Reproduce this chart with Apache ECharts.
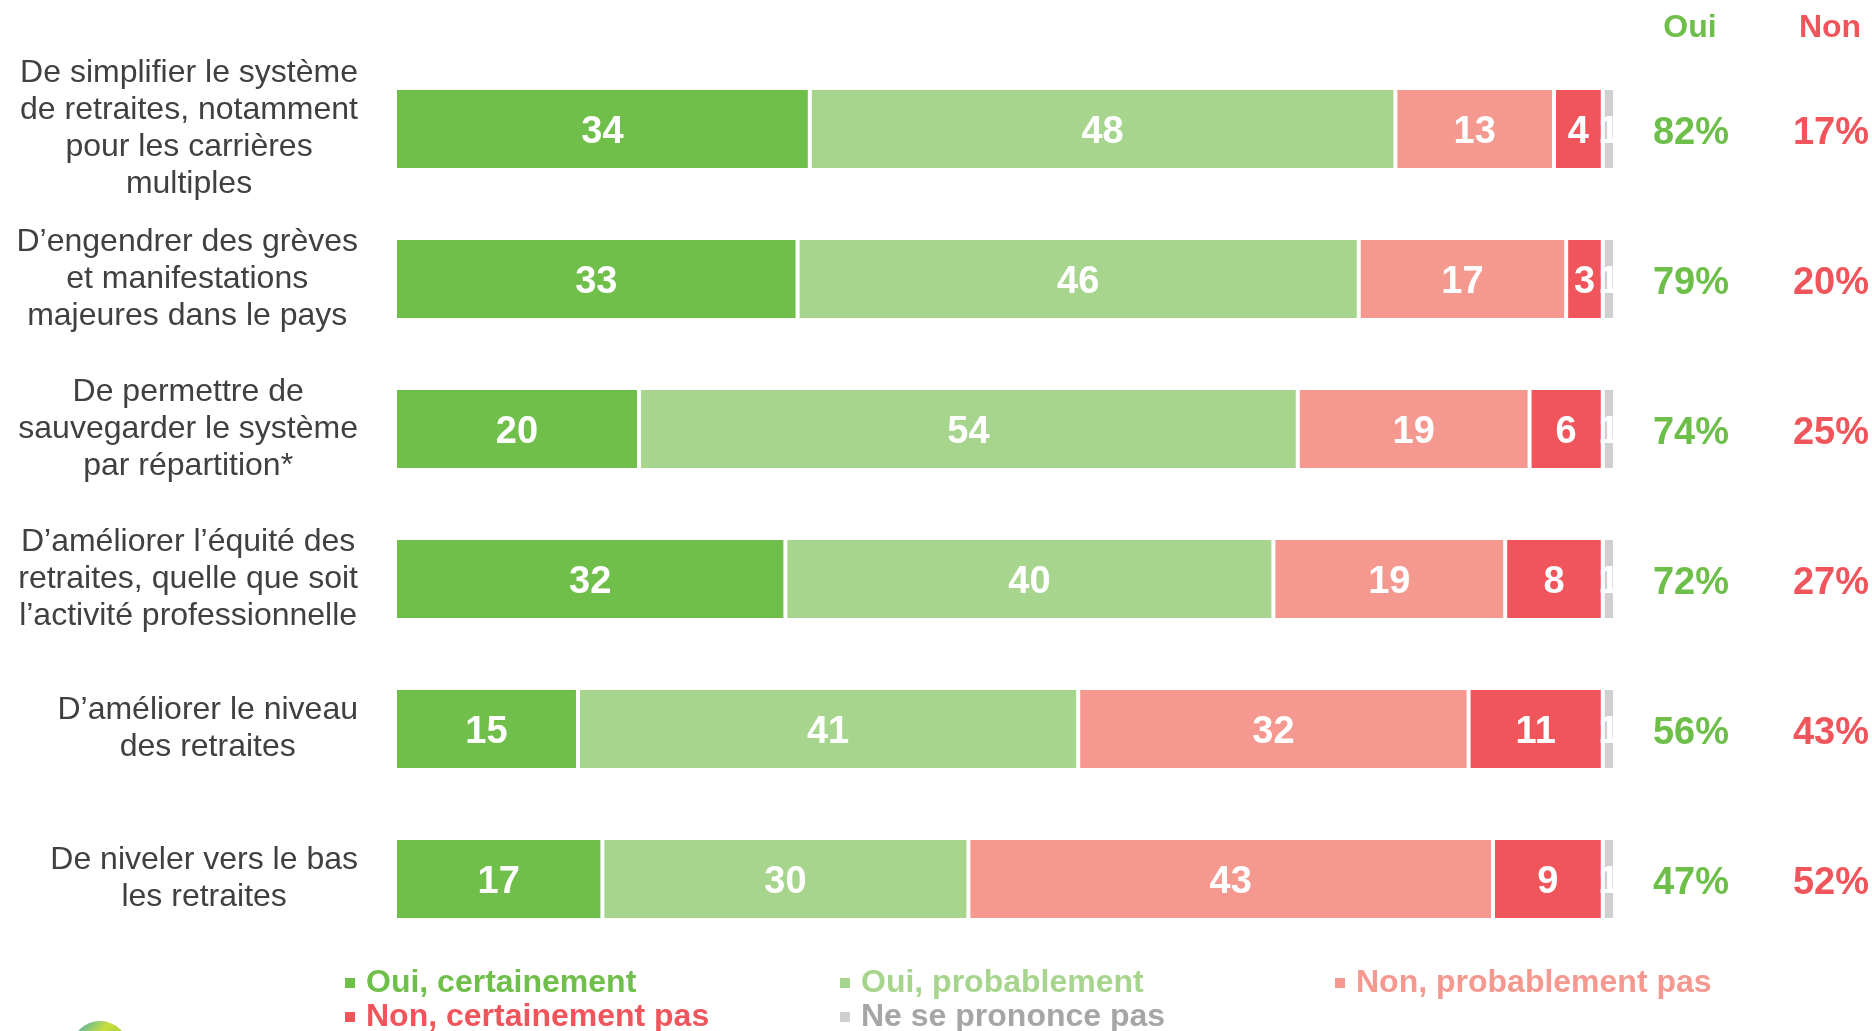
<!DOCTYPE html>
<html>
<head>
<meta charset="utf-8">
<script src="https://cdn.jsdelivr.net/npm/echarts@6/dist/echarts.min.js"></script>
<style>
  html, body { margin: 0; padding: 0; background: #fff; }
  #chart { width: 1872px; height: 1031px; }
</style>
</head>
<body>
<div id="chart"></div>
<script>
const categories = [
  'De simplifier le système\nde retraites, notamment\npour les carrières\nmultiples',
  'D’engendrer des grèves\net manifestations\nmajeures dans le pays',
  'De permettre de\nsauvegarder le système\npar répartition*',
  'D’améliorer l’équité des\nretraites, quelle que soit\nl’activité professionnelle',
  'D’améliorer le niveau\ndes retraites',
  'De niveler vers le bas\nles retraites'
];
const seriesNames = ['Oui, certainement', 'Oui, probablement', 'Non, probablement pas', 'Non, certainement pas', 'Ne se prononce pas'];
const ouiCertainement = [34, 33, 20, 32, 15, 17];
const ouiProbablement = [48, 46, 54, 40, 41, 30];
const nonProbablement = [13, 17, 19, 19, 32, 43];
const nonCertainement = [4, 3, 6, 8, 11, 9];
const nsp = [1, 1, 1, 1, 1, 1];

const colors = ['#70bf4b', '#a8d58e', '#f5988f', '#f0555b', '#d0cfcf'];
const legendTextColors = ['#70bf4b', '#a8d58e', '#f5988f', '#f0555b', '#a6a6a6'];
const font = '"Liberation Sans", Arial, sans-serif';

const totalOui = ouiCertainement.map((v, i) => v + ouiProbablement[i]);
const totalNon = nonProbablement.map((v, i) => v + nonCertainement[i]);

const chart = echarts.init(document.getElementById('chart'));

function makeSeries(name, data, color) {
  return {
    name: name,
    type: 'bar',
    stack: 'total',
    barWidth: 82,
    data: data,
    itemStyle: { color: color, borderColor: '#fff', borderWidth: 2 },
    label: {
      show: true,
      position: 'inside',
      offset: [0, 4],
      color: '#fff',
      fontFamily: font,
      fontWeight: 'bold',
      fontSize: 38
    },
    emphasis: { disabled: true }
  };
}

function legendItems(idx) {
  return idx.map(i => ({
    name: seriesNames[i],
    textStyle: { color: legendTextColors[i] }
  }));
}

const legendBase = {
  left: 343,
  orient: 'horizontal',
  padding: 0,
  icon: 'rect',
  itemWidth: 12,
  itemHeight: 12,
  itemGap: 0,
  selectedMode: false,
  textStyle: {
    fontFamily: font,
    fontWeight: 'bold',
    fontSize: 32,
    lineHeight: 34,
    width: 472,
    padding: [0, 0, 0, 5]
  }
};

const option = {
  animation: false,
  backgroundColor: '#fff',
  title: {
    text: '{o|Oui}{n|Non}',
    left: 1630,
    top: 11,
    padding: 0,
    textStyle: {
      rich: {
        o: { width: 120, align: 'center', color: '#6ebe4a', fontFamily: font, fontWeight: 'bold', fontSize: 32, lineHeight: 34 },
        n: { width: 160, align: 'center', color: '#f0555b', fontFamily: font, fontWeight: 'bold', fontSize: 32, lineHeight: 34 }
      }
    }
  },
  legend: [
    Object.assign({}, legendBase, { top: 966, data: legendItems([0, 1, 2]) }),
    Object.assign({}, legendBase, { top: 1000, data: legendItems([3, 4]) })
  ],
  grid: { left: 395, right: 256, top: 54, bottom: 77 },
  xAxis: {
    type: 'value',
    min: 0,
    max: 100,
    show: false
  },
  yAxis: [
    {
      type: 'category',
      data: categories,
      inverse: true,
      axisLine: { show: false },
      axisTick: { show: false },
      axisLabel: {
        align: 'right',
        margin: 37,
        formatter: v => v.split('\n').map(l => '{c|' + l + '}').join('\n'),
        rich: {
          c: { align: 'center', color: '#404040', fontFamily: font, fontSize: 32, lineHeight: 37 }
        }
      }
    },
    {
      type: 'category',
      data: categories,
      inverse: true,
      position: 'right',
      axisLine: { show: false },
      axisTick: { show: false },
      axisLabel: {
        align: 'left',
        margin: 16,
        formatter: (v, i) => '{o|' + totalOui[i] + '%}{n|' + totalNon[i] + '%}',
        rich: {
          o: { width: 120, align: 'center', color: '#6ebe4a', fontFamily: font, fontWeight: 'bold', fontSize: 38, padding: [9, 0, 0, 0] },
          n: { width: 160, align: 'center', color: '#f0555b', fontFamily: font, fontWeight: 'bold', fontSize: 38, padding: [9, 0, 0, 0] }
        }
      }
    }
  ],
  series: [
    makeSeries(seriesNames[0], ouiCertainement, colors[0]),
    makeSeries(seriesNames[1], ouiProbablement, colors[1]),
    makeSeries(seriesNames[2], nonProbablement, colors[2]),
    makeSeries(seriesNames[3], nonCertainement, colors[3]),
    makeSeries(seriesNames[4], nsp, colors[4])
  ],
  graphic: [
    {
      type: 'circle',
      shape: { cx: 100, cy: 1050, r: 29 },
      style: {
        fill: new echarts.graphic.LinearGradient(0, 0, 1, 1, [
          { offset: 0, color: '#2a9fd6' },
          { offset: 0.35, color: '#c9de3c' },
          { offset: 1, color: '#5cb54a' }
        ])
      },
      silent: true
    }
  ]
};

chart.setOption(option);
</script>
</body>
</html>
